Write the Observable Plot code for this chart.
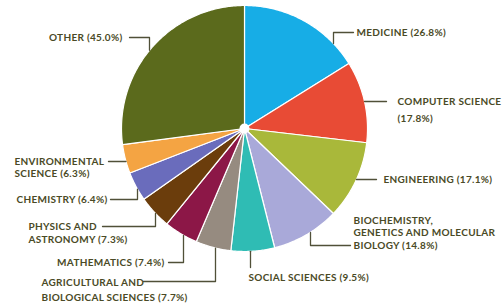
<!DOCTYPE html>
<html><head><meta charset="utf-8">
<script src="https://cdn.jsdelivr.net/npm/d3@7"></script>
<script src="https://cdn.jsdelivr.net/npm/@observablehq/plot@0.6"></script>
<style>html,body{margin:0;padding:0;background:#fff;overflow:hidden} svg text{letter-spacing:0.3px}</style>
</head><body><div id="chart"></div>
<script>
// ---- data ----
const categories = ["Medicine","Computer Science","Engineering","Biochemistry, Genetics and Molecular Biology","Social Sciences","Agricultural and Biological Sciences","Mathematics","Physics and Astronomy","Chemistry","Environmental Science","Other"];
const shares = [26.8, 17.8, 17.1, 14.8, 9.5, 7.7, 7.4, 7.3, 6.4, 6.3, 45.0];
const labelLines = [
  ["MEDICINE (26.8%)"],
  ["COMPUTER SCIENCE", "(17.8%)"],
  ["ENGINEERING (17.1%)"],
  ["BIOCHEMISTRY,", "GENETICS AND MOLECULAR", "BIOLOGY (14.8%)"],
  ["SOCIAL SCIENCES (9.5%)"],
  ["AGRICULTURAL AND", "BIOLOGICAL SCIENCES (7.7%)"],
  ["MATHEMATICS (7.4%)"],
  ["PHYSICS AND", "ASTRONOMY (7.3%)"],
  ["CHEMISTRY (6.4%)"],
  ["ENVIRONMENTAL", "SCIENCE (6.3%)"],
  ["OTHER (45.0%)"]
];
const sliceColors = ["#17ade6","#e84b35","#a9b83a","#a9a9d9","#2fbcb4","#968b80","#8c1747","#6b3d0c","#6a6cbc","#f4a443","#5b6a1c"];

// ---- layout (pixels) ----
const W = 502, H = 307, CX = 244, CY = 128, R = 123;
const toX = px => (px - CX) / R, toY = py => (CY - py) / R;
const layout = [
  {x:356, ys:[32], anchor:"start", leader:[[353,32],[333,32]], end:"v"},
  {x:397, ys:[101,118], anchor:"start", leader:[[386,101]], end:"h"},
  {x:383, ys:[179], anchor:"start", leader:[[376,179]], end:"h"},
  {x:353, ys:[220,232.5,245], anchor:"start", leader:[[350,245],[310,245]], end:"v"},
  {x:248, ys:[277], anchor:"start", leader:[[250,267]], end:"v"},
  {x:41, ys:[282,297], anchor:"start", leader:[[143,281],[215,281]], end:"v"},
  {x:164, ys:[262], anchor:"end", leader:[[168,262],[183,262]], end:"v"},
  {x:28, ys:[226,239], anchor:"start", leader:[[102,226],[155,226]], end:"v"},
  {x:107, ys:[199], anchor:"end", leader:[[110,199],[137,199]], end:"v"},
  {x:14, ys:[161,173], anchor:"start", leader:[[108,161]], end:"h"},
  {x:122, ys:[37], anchor:"end", leader:[[129,37],[149,37]], end:"v"}
];

// ---- slices ----
const arcs = d3.pie().sort(null).value(d => d)(shares);
const slicePts = arcs.flatMap((a, i) => {
  const n = Math.max(2, Math.ceil((a.endAngle - a.startAngle) / 0.01));
  const pts = [{name: categories[i], x: 0, y: 0}];
  for (let k = 0; k <= n; k++) {
    const t = a.startAngle + (a.endAngle - a.startAngle) * k / n;
    pts.push({name: categories[i], x: Math.sin(t), y: Math.cos(t)});
  }
  pts.push({name: categories[i], x: 0, y: 0});
  return pts;
});

// ---- leaders ----
const leaderPts = layout.flatMap((L, i) => {
  const pts = L.leader.map(([px, py]) => ({name: categories[i], x: toX(px), y: toY(py)}));
  const [lx, ly] = L.leader[L.leader.length - 1];
  let ex, ey;
  if (L.end === "v") {
    const dx = lx - CX, dy = Math.sqrt(R * R - dx * dx);
    ex = lx; ey = ly < CY ? CY - dy : CY + dy;
  } else {
    const dy = ly - CY, dx = Math.sqrt(R * R - dy * dy);
    ey = ly; ex = lx < CX ? CX - dx : CX + dx;
  }
  pts.push({name: categories[i], x: toX(ex), y: toY(ey)});
  return pts;
});

// ---- texts ----
const texts = layout.flatMap((L, i) => labelLines[i].map((t, j) => ({text: t, x: toX(L.x), y: toY(L.ys[j]), anchor: L.anchor})));

const textStyle = {fill: "#4a4a26", fontFamily: "Lato", fontWeight: "bold", fontSize: 10, lineAnchor: "middle"};

const chart = Plot.plot({
  width: W, height: H, margin: 0,
  x: {domain: [toX(0), toX(W)], axis: null},
  y: {domain: [toY(H), toY(0)], axis: null},
  color: {domain: categories, range: sliceColors},
  marks: [
    Plot.line(slicePts, {x: "x", y: "y", z: "name", fill: "name", stroke: "white", strokeWidth: 1.2, strokeLinejoin: "round"}),
    Plot.dot([{x: 0, y: 0}], {x: "x", y: "y", r: 5, fill: "white"}),
    Plot.line(leaderPts, {x: "x", y: "y", z: "name", stroke: "#505038", strokeWidth: 1.3}),
    Plot.text(texts.filter(d => d.anchor === "start"), {x: "x", y: "y", text: "text", textAnchor: "start", ...textStyle}),
    Plot.text(texts.filter(d => d.anchor === "end"), {x: "x", y: "y", text: "text", textAnchor: "end", ...textStyle})
  ]
});
document.getElementById("chart").appendChild(chart);
</script>
</body></html>
